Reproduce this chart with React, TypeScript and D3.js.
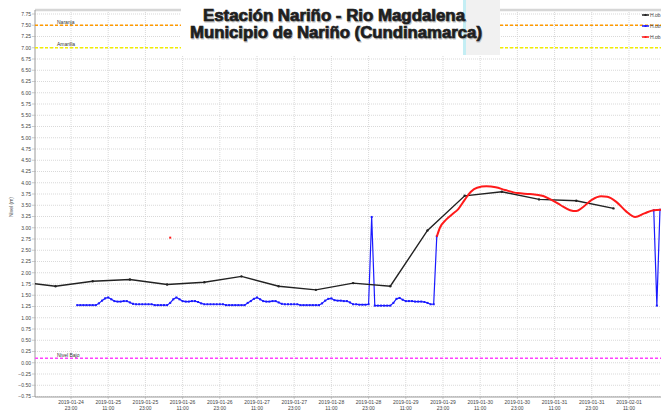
import React, {useEffect, useRef} from "react"
import * as d3 from "d3"

// tick labels on the time axis (every 12 h)
const xTickLabels = [
    "2019-01-24 23:00", "2019-01-25 11:00", "2019-01-25 23:00", "2019-01-26 11:00",
    "2019-01-26 23:00", "2019-01-27 11:00", "2019-01-27 23:00", "2019-01-28 11:00",
    "2019-01-28 23:00", "2019-01-29 11:00", "2019-01-29 23:00", "2019-01-30 11:00",
    "2019-01-30 23:00", "2019-01-31 11:00", "2019-01-31 23:00", "2019-02-01 11:00",
]
const yTicks = d3.range(-0.75, 7.76, 0.25)

// manual readings (black)
const manualTimes = [
    "2019-01-24 06:00", "2019-01-24 18:00", "2019-01-25 06:00", "2019-01-25 18:00",
    "2019-01-26 06:00", "2019-01-26 18:00", "2019-01-27 06:00", "2019-01-27 18:00",
    "2019-01-28 06:00", "2019-01-28 18:00", "2019-01-29 06:00", "2019-01-29 18:00",
    "2019-01-30 06:00", "2019-01-30 18:00", "2019-01-31 06:00", "2019-01-31 18:00",
    "2019-02-01 06:00",
]
const manualLevels = [1.80, 1.70, 1.81, 1.85, 1.74, 1.79, 1.92, 1.70, 1.62, 1.77, 1.70, 2.94, 3.71, 3.80, 3.63, 3.60, 3.43]

// sensor (blue), hourly from 2019-01-25 01:00
const sensorStart = "2019-01-25 01:00"
const sensorLevels = [
    1.28, 1.28, 1.28, 1.28, 1.28, 1.28, 1.28,
    1.32, 1.38, 1.43, 1.45, 1.41, 1.37, 1.36, 1.36, 1.37, 1.37, 1.34, 1.31,
    1.30, 1.30, 1.30, 1.30, 1.30, 1.30,
    1.28, 1.28, 1.28, 1.28, 1.28,
    1.33, 1.41, 1.45, 1.41, 1.37, 1.36, 1.36, 1.37, 1.37, 1.35, 1.32, 1.30,
    1.30, 1.30, 1.30, 1.30, 1.30, 1.30,
    1.28, 1.28, 1.28, 1.28, 1.28, 1.28, 1.28,
    1.33, 1.37, 1.42, 1.45, 1.41, 1.37, 1.36, 1.36, 1.37, 1.37, 1.34, 1.31,
    1.30, 1.30, 1.30, 1.30, 1.30,
    1.28, 1.28, 1.28, 1.28, 1.28, 1.28, 1.28,
    1.32, 1.38, 1.42, 1.43, 1.39, 1.38, 1.38, 1.37, 1.37, 1.34, 1.30,
    1.30, 1.29, 1.29, 1.29,
    1.30, 3.24, 1.27,
    1.27, 1.27, 1.27, 1.27, 1.27,
    1.33, 1.42, 1.44, 1.40, 1.37, 1.37, 1.37, 1.36, 1.36, 1.36, 1.35, 1.33, 1.30, 1.30,
    2.81,
]
const sensorTailTimes = ["2019-02-01 19:00", "2019-02-01 20:00", "2019-02-01 21:00"]
const sensorTailLevels = [3.39, 1.27, 3.40]

// second sensor (red)
const redTimes = [
    "2019-01-29 21:00", "2019-01-29 22:00", "2019-01-30 00:00", "2019-01-30 02:00",
    "2019-01-30 04:00", "2019-01-30 06:00", "2019-01-30 08:00", "2019-01-30 10:00",
    "2019-01-30 13:00", "2019-01-30 16:00", "2019-01-30 19:00", "2019-01-30 23:00",
    "2019-01-31 03:00", "2019-01-31 07:00", "2019-01-31 10:00", "2019-01-31 13:00",
    "2019-01-31 16:00", "2019-01-31 18:00", "2019-01-31 20:00", "2019-01-31 23:00",
    "2019-02-01 02:00", "2019-02-01 04:00", "2019-02-01 07:00", "2019-02-01 10:00",
    "2019-02-01 13:00", "2019-02-01 16:00", "2019-02-01 19:00", "2019-02-01 22:00",
]
const redLevels = [
    2.80, 3.00, 3.18, 3.30, 3.42, 3.62, 3.80, 3.89, 3.92, 3.90, 3.84, 3.77,
    3.75, 3.71, 3.62, 3.50, 3.39, 3.37, 3.45, 3.62, 3.70, 3.69, 3.57, 3.37,
    3.24, 3.32, 3.39, 3.40,
]
const redDotTime = "2019-01-26 07:00"
const redDotLevel = 2.78

// alert thresholds
const thresholds = [
    {name: "Naranja", level: 7.5, color: "#ff9a00"},
    {name: "Amarilla", level: 7.0, color: "#f2ee00"},
    {name: "Nivel Bajo", level: 0.1, color: "#ff40ff"},
]
// legend entries are cut by the picture edge in the original, only "H.ob" shows
const legendNames = ["H.ob", "H.ob", "H.ob"]
const legendColors = ["#222222", "#1a1aff", "#ff1a1a"]
const titleLines = ["Estación Nariño  - Rio Magdalena", "Municipio de Nariño (Cundinamarca)"]

const width = 661
const height = 416
const font = "'Liberation Sans', Arial, sans-serif"

const App = () => {
    const ref = useRef(null)

    useEffect(() => {
        const svg = d3.select(ref.current)
        svg.selectAll("*").remove()
        const parse = d3.timeParse("%Y-%m-%d %H:%M")

        const left = 35, right = 661, top = 10, bottom = 397
        const x = d3.scaleTime()
            .domain([parse("2019-01-24 11:23")!, parse("2019-02-01 21:20")!])
            .range([left, right])
        const y = d3.scaleLinear().domain([-0.75, 7.75]).range([396.5, 14])

        svg.append("rect").attr("width", width).attr("height", height).attr("fill", "#fff")

        const defs = svg.append("defs")
        defs.append("clipPath").attr("id", "plot")
            .append("rect").attr("x", left).attr("y", top)
            .attr("width", right - left).attr("height", bottom - top)

        // grid
        const grid = svg.append("g")
        grid.selectAll("line.h").data(yTicks).join("line")
            .attr("x1", left).attr("x2", right)
            .attr("y1", d => y(d)).attr("y2", d => y(d))
            .attr("stroke", "#cfcfcf").attr("stroke-width", 0.8)
            .attr("stroke-dasharray", "1,1")
        const xTicks = xTickLabels.map(s => parse(s)!)
        grid.selectAll("line.v").data(xTicks).join("line")
            .attr("x1", d => x(d)).attr("x2", d => x(d))
            .attr("y1", top).attr("y2", bottom)
            .attr("stroke", "#cfcfcf").attr("stroke-width", 0.8)
            .attr("stroke-dasharray", "1,1")

        // frame
        svg.append("line").attr("x1", left).attr("x2", right).attr("y1", top).attr("y2", top)
            .attr("stroke", "#d6d6d6").attr("stroke-width", 2.5)
        svg.append("line").attr("x1", left).attr("x2", left).attr("y1", top).attr("y2", bottom)
            .attr("stroke", "#9a9a9a").attr("stroke-width", 1)
        svg.append("line").attr("x1", left).attr("x2", right).attr("y1", bottom).attr("y2", bottom)
            .attr("stroke", "#9a9a9a").attr("stroke-width", 1)

        // y ticks
        const yAxis = svg.append("g").attr("font-family", font).attr("font-size", 5).attr("fill", "#444")
        yAxis.selectAll("text").data(yTicks).join("text")
            .attr("x", 31).attr("y", d => y(d) + 1.8)
            .attr("text-anchor", "end")
            .text(d => d3.format(".2f")(d))
        yAxis.selectAll("line").data(yTicks).join("line")
            .attr("x1", 32).attr("x2", left).attr("y1", d => y(d)).attr("y2", d => y(d))
            .attr("stroke", "#aaa").attr("stroke-width", 0.6)
        svg.append("text")
            .attr("transform", `translate(13,207) rotate(-90)`)
            .attr("text-anchor", "middle").attr("font-family", font)
            .attr("font-size", 5).attr("fill", "#444")
            .text("Nivel (m)")

        // x ticks
        const fmtDate = d3.timeFormat("%Y-%m-%d")
        const fmtHour = d3.timeFormat("%H:%M")
        const xAxis = svg.append("g").attr("font-family", font).attr("font-size", 5).attr("fill", "#444")
            .attr("text-anchor", "middle")
        xAxis.selectAll("text.d").data(xTicks).join("text")
            .attr("x", d => x(d)).attr("y", 404).text(d => fmtDate(d))
        xAxis.selectAll("text.t").data(xTicks).join("text")
            .attr("x", d => x(d)).attr("y", 410).text(d => fmtHour(d))
        xAxis.selectAll("line").data(xTicks).join("line")
            .attr("x1", d => x(d)).attr("x2", d => x(d)).attr("y1", bottom).attr("y2", bottom + 2)
            .attr("stroke", "#aaa").attr("stroke-width", 0.6)

        const plot = svg.append("g").attr("clip-path", "url(#plot)")

        // thresholds
        thresholds.forEach(t => {
            plot.append("line").attr("x1", left).attr("x2", right)
                .attr("y1", y(t.level)).attr("y2", y(t.level))
                .attr("stroke", t.color).attr("stroke-width", 1.3)
                .attr("stroke-dasharray", "3,2")
            plot.append("text").attr("x", 57).attr("y", y(t.level) - 1.5)
                .attr("font-family", font).attr("font-size", 5).attr("fill", "#333")
                .text(t.name)
        })

        type P = [Date, number]
        const line = d3.line<P>().x(d => x(d[0])).y(d => y(d[1]))

        // blue sensor
        const s0 = parse(sensorStart)!
        const sensor: P[] = sensorLevels.map((v, i) => [d3.timeHour.offset(s0, i), v])
        const sensorTail: P[] = sensorTailTimes.map((t, i) => [parse(t)!, sensorTailLevels[i]])
        ;[sensor, sensorTail].forEach(seg => {
            plot.append("path").datum(seg).attr("d", line)
                .attr("fill", "none").attr("stroke", "#1a1aff").attr("stroke-width", 1.2)
            plot.append("g").selectAll("rect").data(seg).join("rect")
                .attr("x", d => x(d[0]) - 1).attr("y", d => y(d[1]) - 1)
                .attr("width", 2).attr("height", 2).attr("fill", "#1a1aff")
        })

        // black manual readings
        const manual: P[] = manualTimes.map((t, i) => [parse(t)!, manualLevels[i]])
        plot.append("path").datum(manual).attr("d", line)
            .attr("fill", "none").attr("stroke", "#222").attr("stroke-width", 1.4)
        plot.append("g").selectAll("circle").data(manual).join("circle")
            .attr("cx", d => x(d[0])).attr("cy", d => y(d[1])).attr("r", 1.2).attr("fill", "#222")

        // red sensor
        const red: P[] = redTimes.map((t, i) => [parse(t)!, redLevels[i]])
        plot.append("path").datum(red).attr("d", line.curve(d3.curveMonotoneX))
            .attr("fill", "none").attr("stroke", "#ff1a1a").attr("stroke-width", 2)
        plot.append("rect")
            .attr("x", x(parse(redDotTime)!) - 1).attr("y", y(redDotLevel) - 1)
            .attr("width", 2).attr("height", 2).attr("fill", "#ff1a1a")

        // legend
        const legend = svg.append("g").attr("font-family", font).attr("font-size", 5).attr("fill", "#444")
        legendNames.forEach((n, i) => {
            const ly = 15 + i * 11
            legend.append("line").attr("x1", 642).attr("x2", 649).attr("y1", ly).attr("y2", ly)
                .attr("stroke", legendColors[i]).attr("stroke-width", 1.5)
            legend.append("rect").attr("x", 644.5).attr("y", ly - 1).attr("width", 2).attr("height", 2)
                .attr("fill", legendColors[i])
            legend.append("text").attr("x", 650).attr("y", ly + 2).text(n)
        })

        // title image
        const title = svg.append("g")
        title.append("rect").attr("x", 181).attr("y", 0).attr("width", 319).attr("height", 55).attr("fill", "#fff")
        title.append("rect").attr("x", 466).attr("y", 0).attr("width", 34).attr("height", 55).attr("fill", "#f1f1f1")
        title.append("rect").attr("x", 463).attr("y", 0).attr("width", 3).attr("height", 55).attr("fill", "#c4eef4")
        const tl = [{cx: 334, by: 21, w: 262}, {cx: 336, by: 38, w: 292}]
        titleLines.forEach((t, i) => {
            title.append("text").attr("x", tl[i].cx + 0.8).attr("y", tl[i].by + 0.8)
                .attr("text-anchor", "middle").attr("font-family", font).attr("font-weight", "bold")
                .attr("font-size", 16).attr("fill", "#999").attr("opacity", 0.6)
                .attr("stroke", "#999").attr("stroke-width", 0.8)
                .attr("textLength", tl[i].w).attr("lengthAdjust", "spacingAndGlyphs").text(t)
            title.append("text").attr("x", tl[i].cx).attr("y", tl[i].by)
                .attr("text-anchor", "middle").attr("font-family", font).attr("font-weight", "bold")
                .attr("font-size", 16).attr("fill", "#1e1e1e")
                .attr("stroke", "#1e1e1e").attr("stroke-width", 0.7)
                .attr("textLength", tl[i].w).attr("lengthAdjust", "spacingAndGlyphs").text(t)
        })
    }, [])

    return (
        <svg
            ref={ref}
            width={width}
            height={height}
            style={{position: "absolute", left: 0, top: 0}}
        />
    )
}

export default App
